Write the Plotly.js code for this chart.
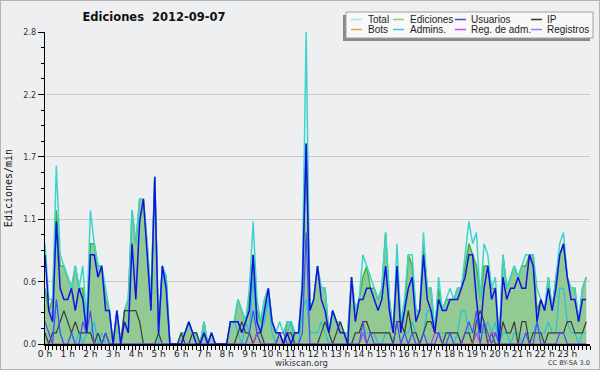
<!DOCTYPE html>
<html><head><meta charset="utf-8">
<script src="https://cdn.plot.ly/plotly-3.0.1.min.js"></script>
<style>html,body{margin:0;padding:0;background:#eeeff1}#chart{width:598px;height:368px;border:1px solid #b4b4b4}</style>
</head><body><div id="chart"></div><script>
// 10-minute slots, values in edits per minute
const total = [
0.9,0.4,0.4,1.6,0.8,0.7, 0.6,0.5,0.7,0.5,0.7,0.2, 1.2,0.9,0.7,0.7,0.5,0.3, 0.0,0.3,0.0,0.3,0.4,1.2,
0.9,1.3,1.3,0.9,0.4,1.5, 0.1,0.7,0.6,0.0,0.0,0.0, 0.1,0.1,0.2,0.1,0.1,0.0, 0.2,0.0,0.1,0.0,0.0,0.0,
0.0,0.2,0.2,0.4,0.3,0.2, 0.5,1.1,0.4,0.2,0.4,0.5, 0.2,0.1,0.2,0.1,0.2,0.2, 0.1,0.1,0.6,2.8,0.3,0.4,
0.7,0.5,0.5,0.1,0.3,0.2, 0.2,0.1,0.1,0.6,0.3,0.4, 0.8,0.7,0.6,0.5,0.4,0.5, 1.0,0.4,0.1,0.9,0.2,0.4,
0.8,0.8,0.3,0.3,1.0,0.5, 0.5,0.1,0.6,0.3,0.4,0.5, 0.4,0.5,0.5,0.8,1.1,0.9, 1.0,0.4,0.9,0.8,0.5,0.6,
0.0,0.8,0.5,0.6,0.7,0.6, 0.7,0.8,0.8,0.8,0.5,0.4, 0.3,0.6,0.3,0.6,0.9,1.0, 0.6,0.5,0.5,0.2,0.5,0.6];
const ediciones = [
0.5,0.3,0.4,1.2,0.7,0.7, 0.6,0.5,0.7,0.5,0.5,0.1, 0.9,0.9,0.7,0.7,0.4,0.3, 0.0,0.3,0.0,0.3,0.4,1.2,
0.9,1.3,1.3,0.9,0.4,1.5, 0.1,0.7,0.6,0.0,0.0,0.0, 0.1,0.1,0.2,0.1,0.1,0.0, 0.2,0.0,0.1,0.0,0.0,0.0,
0.0,0.2,0.2,0.4,0.3,0.2, 0.4,0.8,0.3,0.2,0.4,0.5, 0.2,0.1,0.1,0.0,0.2,0.2, 0.1,0.1,0.5,1.8,0.3,0.4,
0.7,0.5,0.5,0.1,0.3,0.2, 0.2,0.1,0.1,0.6,0.3,0.4, 0.6,0.7,0.5,0.5,0.4,0.5, 1.0,0.4,0.1,0.7,0.2,0.3,
0.8,0.7,0.3,0.3,0.9,0.5, 0.5,0.1,0.5,0.3,0.4,0.4, 0.4,0.5,0.5,0.7,0.9,0.8, 0.7,0.4,0.7,0.7,0.5,0.5,
0.0,0.8,0.5,0.6,0.7,0.6, 0.7,0.7,0.8,0.8,0.3,0.4, 0.3,0.6,0.3,0.6,0.8,0.9, 0.6,0.5,0.5,0.2,0.5,0.6];
const usuarios = [
0.8,0.3,0.2,1.1,0.5,0.4, 0.4,0.5,0.3,0.5,0.4,0.1, 0.8,0.8,0.6,0.7,0.3,0.3, 0.0,0.3,0.0,0.2,0.1,0.9,
0.4,1.1,1.3,0.8,0.3,1.5, 0.1,0.7,0.5,0.0,0.0,0.0, 0.0,0.1,0.2,0.1,0.0,0.0, 0.1,0.0,0.1,0.0,0.0,0.0,
0.0,0.2,0.2,0.2,0.1,0.2, 0.3,0.8,0.2,0.1,0.3,0.5, 0.2,0.1,0.1,0.0,0.1,0.0, 0.1,0.1,0.5,1.8,0.3,0.4,
0.7,0.4,0.3,0.1,0.3,0.2, 0.1,0.1,0.0,0.6,0.2,0.4, 0.4,0.5,0.5,0.4,0.3,0.4, 0.7,0.3,0.1,0.7,0.1,0.3,
0.5,0.6,0.2,0.3,0.8,0.4, 0.3,0.1,0.4,0.3,0.3,0.4, 0.4,0.4,0.5,0.6,0.8,0.8, 0.4,0.1,0.5,0.7,0.4,0.5,
0.0,0.6,0.4,0.5,0.5,0.6, 0.5,0.5,0.8,0.7,0.2,0.4, 0.3,0.5,0.3,0.5,0.8,0.9, 0.6,0.4,0.4,0.2,0.4,0.4];
const ip = [
0.1,0.0,0.1,0.1,0.2,0.3, 0.2,0.1,0.2,0.1,0.1,0.1, 0.1,0.0,0.1,0.0,0.1,0.0, 0.0,0.0,0.0,0.3,0.3,0.3,
0.3,0.2,0.0,0.0,0.0,0.0, 0.1,0.0,0.0,0.0,0.0,0.0, 0.1,0.0,0.0,0.1,0.1,0.0, 0.1,0.0,0.0,0.0,0.0,0.0,
0.0,0.0,0.0,0.1,0.2,0.1, 0.1,0.0,0.1,0.1,0.0,0.0, 0.0,0.0,0.1,0.0,0.1,0.1, 0.0,0.0,0.0,0.0,0.0,0.0,
0.0,0.1,0.2,0.1,0.0,0.1, 0.2,0.1,0.0,0.0,0.1,0.1, 0.2,0.2,0.1,0.1,0.1,0.1, 0.1,0.1,0.0,0.2,0.2,0.1,
0.3,0.1,0.1,0.0,0.1,0.2, 0.2,0.1,0.1,0.0,0.1,0.1, 0.1,0.1,0.0,0.1,0.1,0.0, 0.2,0.3,0.2,0.0,0.1,0.0,
0.0,0.2,0.1,0.1,0.2,0.0, 0.2,0.2,0.0,0.1,0.1,0.1, 0.0,0.1,0.1,0.1,0.1,0.1, 0.2,0.2,0.1,0.1,0.1,0.2];
const bots = new Array(144).fill(0);
const admins = [
0.1,0.0,0.1,0.4,0.1,0.0, 0.0,0.1,0.0,0.1,0.0,0.1, 0.1,0.2,0.0,0.1,0.0,0.0, 0.0,0.0,0.0,0.0,0.0,0.0,
0.0,0.0,0.0,0.0,0.0,0.0, 0.0,0.7,0.6,0.0,0.0,0.0, 0.0,0.0,0.0,0.0,0.0,0.0, 0.0,0.0,0.1,0.0,0.0,0.0,
0.0,0.2,0.2,0.1,0.0,0.2, 0.1,0.6,0.1,0.1,0.2,0.4, 0.1,0.0,0.0,0.0,0.1,0.2, 0.0,0.0,0.3,0.4,0.1,0.1,
0.1,0.2,0.1,0.0,0.0,0.0, 0.0,0.0,0.0,0.0,0.0,0.0, 0.1,0.1,0.1,0.1,0.0,0.0, 0.1,0.1,0.0,0.0,0.0,0.1,
0.1,0.2,0.1,0.0,0.1,0.3, 0.3,0.1,0.1,0.1,0.1,0.1, 0.0,0.1,0.3,0.3,0.1,0.1, 0.1,0.1,0.1,0.2,0.1,0.2,
0.0,0.1,0.1,0.0,0.1,0.1, 0.0,0.1,0.1,0.1,0.2,0.1, 0.1,0.2,0.1,0.1,0.5,0.5, 0.2,0.1,0.1,0.0,0.1,0.1];
const regAdm = [
0,0,0,0,0,0, 0,0,0,0,0,0, 0,0,0,0,0,0, 0,0,0,0,0,0,
0,0,0,0,0,0, 0,0,0,0,0,0, 0,0,0,0,0,0, 0,0,0,0,0,0,
0,0,0,0,0,0, 0,0,0.1,0,0,0, 0,0,0,0,0,0, 0,0,0,0,0,0,
0,0,0,0,0,0, 0,0,0,0,0,0, 0.1,0,0,0,0,0, 0,0,0,0,0,0,
0,0,0,0,0,0, 0,0.1,0.1,0,0,0, 0,0,0,0,0,0, 0.1,0,0,0,0.1,0.1,
0,0,0,0,0,0, 0,0,0,0,0,0, 0,0,0,0,0,0, 0,0,0,0,0,0];
const registros = [
0.2,0.1,0.0,0.4,0.1,0.0, 0.0,0.1,0.0,0.0,0.2,0.1, 0.3,0.0,0.0,0.0,0.1,0.0, 0,0,0,0,0,0,
0,0,0,0,0,0, 0,0,0,0,0,0, 0,0,0,0,0,0, 0,0,0,0,0,0,
0,0,0,0,0,0, 0.1,0.3,0.1,0.0,0.0,0.0, 0.0,0.0,0.1,0.1,0.0,0.0, 0.0,0.0,0.1,1.0,0.0,0.0,
0,0,0,0,0,0, 0,0,0,0,0,0, 0.2,0.0,0.1,0.0,0.0,0.0, 0.0,0.0,0.0,0.2,0.0,0.1,
0.0,0.1,0.0,0.0,0.1,0.0, 0.0,0.0,0.1,0.0,0.0,0.1, 0.0,0.0,0.0,0.1,0.2,0.1, 0.3,0.0,0.2,0.1,0.0,0.1,
0,0,0,0,0,0, 0.0,0.1,0.0,0.0,0.2,0.0, 0.0,0.0,0.0,0.0,0.1,0.1, 0,0,0,0,0,0];
const hourTicks = [0,1,2,3,4,5,6,7,8,9,10,11,12,13,14,15,16,17,18,19,20,21,22,23];
const hourLabels = ['0 h','1 h','2 h','3 h','4 h','5 h','6 h','7 h','8 h','9 h','10 h','11 h','12 h','13 h','14 h','15 h','16 h','17 h','18 h','19 h','20 h','21 h','22 h','23 h'];
const yTickVals = [0, 0.56, 1.12, 1.68, 2.24, 2.8];
const yTickText = ['0.0','0.6','1.1','1.7','2.2','2.8'];
const legendNames = ['Total','Ediciones','Usuarios','IP','Bots','Admins.','Reg. de adm.','Registros'];
const legendColors = ['#a8e4e0','#88d088','#4646d8','#333333','#f5a040','#40c8d8','#c850e0','#8888f0'];

const slotHours = total.map((_, i) => i / 6);

function line(name, y, color, width, extra) {
  return Object.assign({type:'scatter', mode:'lines', name:name, x:slotHours, y:y,
    line:{color:color, width:width}, hoverinfo:'skip', showlegend:false}, extra||{});
}
const data = [
  line('Ediciones', ediciones, '#3cb43c', 1.5, {fill:'tozeroy', fillcolor:'#93ca93'}),
  line('Bots', bots, '#f5a040', 1),
  line('Total', total, '#3fd3cb', 1.5),
  line('Admins.', admins, '#22c2dd', 1.2),
  line('IP', ip, '#3c3c3c', 1.2),
  line('Reg. de adm.', regAdm, '#c040e0', 1.2),
  line('Registros', registros, '#4a4af2', 1.2),
  line('Usuarios', usuarios, '#1212e4', 1.5)
];

// pixel helpers (div coordinates) -> paper coordinates
const W = 598, H = 368, ML = 44, MR = 9, MT = 31, MB = 25;
const PW = W - ML - MR, PH = H - MT - MB;
const px = x => (x - 1 - ML) / PW;
const py = y => (H - MB - (y - 1)) / PH;

const shapes = [
  {type:'rect', xref:'paper', yref:'paper', x0:px(343), x1:px(590), y0:py(41), y1:py(15), fillcolor:'#8a8a8a', line:{width:0}, layer:'above'},
  {type:'rect', xref:'paper', yref:'paper', x0:px(346), x1:px(593), y0:py(38), y1:py(12), fillcolor:'#f8f8f8', line:{color:'#a0a0a0', width:1}, layer:'above'}
];
const annotations = [];
const swX = [[351,362],[393,404],[455,466],[531,542]];
const txX = [366, 408, 469, 545];
const rowY = [19.5, 29.5];
legendNames.forEach((n, k) => {
  const c = k % 4, r = Math.floor(k / 4);
  shapes.push({type:'line', xref:'paper', yref:'paper', x0:px(swX[c][0]), x1:px(swX[c][1]), y0:py(rowY[r]), y1:py(rowY[r]), line:{color:legendColors[k], width:1.5}, layer:'above'});
  annotations.push({xref:'paper', yref:'paper', x:px(txX[c]), y:py(rowY[r]), xanchor:'left', yanchor:'middle', showarrow:false, text:n, font:{family:'Liberation Sans, Arial, sans-serif', size:10, color:'#222'}});
});
annotations.push({xref:'paper', yref:'paper', x:px(301), y:py(362.5), xanchor:'center', yanchor:'middle', showarrow:false, text:'wikiscan.org', font:{family:'DejaVu Sans', size:8.5, color:'#333'}});
annotations.push({xref:'paper', yref:'paper', x:px(569), y:py(363), xanchor:'center', yanchor:'middle', showarrow:false, text:'CC BY-SA 3.0', font:{family:'DejaVu Sans', size:6.5, color:'#333'}});

const layout = {
  width:W, height:H, margin:{l:ML, r:MR, t:MT, b:MB},
  paper_bgcolor:'#eeeff1', plot_bgcolor:'#eeeff1',
  title:{text:'Ediciones\u00a0\u00a02012-09-07', x:153/W, xanchor:'center', y:1-16/H, yanchor:'middle',
    font:{family:'DejaVu Sans', size:11.5, weight:'bold', color:'#111'}},
  xaxis:{range:[0,24], tickmode:'array', tickvals:hourTicks, ticktext:hourLabels, ticks:'outside', ticklen:4, tickcolor:'#000',
    showline:true, linecolor:'#000', linewidth:2, showgrid:false, zeroline:false, ticklabelstandoff:-4,
    tickfont:{family:'DejaVu Sans', size:9, color:'#222'},
    minor:{tickmode:'linear', tick0:0, dtick:1/6, ticks:'outside', ticklen:4, tickcolor:'#000', showgrid:false}},
  yaxis:{range:[0,2.8], tickmode:'array', tickvals:yTickVals, ticktext:yTickText, ticks:'outside', ticklen:6, tickcolor:'#000',
    showline:true, linecolor:'#000', linewidth:1, showgrid:true, gridcolor:'#c8c8c8', zeroline:false,
    tickfont:{family:'DejaVu Sans Condensed, DejaVu Sans', size:9, color:'#333'},
    minor:{tickmode:'linear', tick0:0, dtick:0.14, ticks:'outside', ticklen:3, tickcolor:'#000', showgrid:false},
    title:{text:'Ediciones/min', standoff:8, font:{family:'DejaVu Sans Mono', size:10, color:'#111'}}},
  shapes:shapes, annotations:annotations, showlegend:false
};
Plotly.newPlot('chart', data, layout, {staticPlot:true, displayModeBar:false});
</script></body></html>
